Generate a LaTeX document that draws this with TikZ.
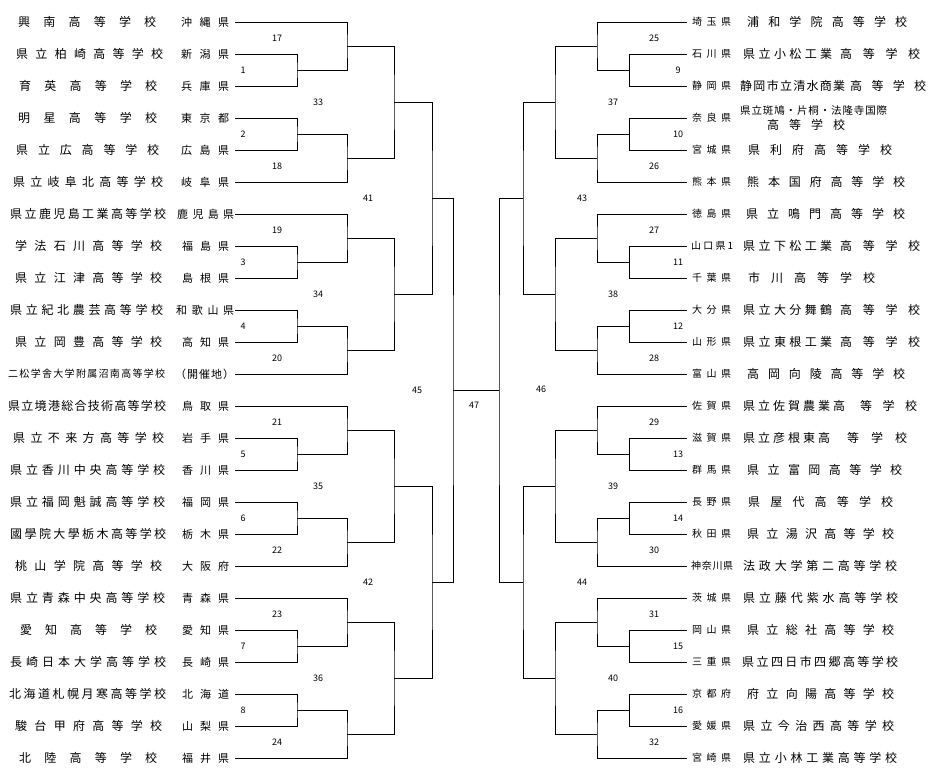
\documentclass[tikz,border=0pt]{standalone}
\usepackage{fontspec}
\setmainfont{Noto Sans CJK JP}
\def\spEnd{\spEnd}
\def\spLoop#1{\ifx#1\spEnd\else\hfill#1\expandafter\spLoop\fi}
\def\spFirst#1{#1\spLoop}
\newcommand\spreadtext[2]{\hbox to #1{\expandafter\spFirst#2\spEnd}}
\tikzset{
  nm/.style={anchor=west,inner sep=0pt,font=\fontsize{12}{12}\selectfont},
  pfl/.style={anchor=west,inner sep=0pt,font=\fontsize{11}{11}\selectfont},
  pfr/.style={anchor=west,inner sep=0pt,font=\fontsize{10}{10}\selectfont},
  num/.style={inner sep=0pt,font=\fontsize{9}{9}\selectfont},
  br/.style={line width=1pt,black}
}
\begin{document}
\begin{tikzpicture}[x=1pt,y=-1pt]
\fill[white] (0,0) rectangle (936,779);
\useasboundingbox (0,0) rectangle (936,779);
% entry coordinates
\foreach \k in {1,...,24}{
  \coordinate (L\k) at (235,{22+32*(\k-1)});
  \coordinate (R\k) at (687,{22+32*(\k-1)});
}
% left groups
\foreach \g in {0,...,3}{
  \pgfmathtruncatemacro\ra{6*\g+1}\pgfmathtruncatemacro\rb{6*\g+2}
  \pgfmathtruncatemacro\rc{6*\g+3}\pgfmathtruncatemacro\rd{6*\g+4}
  \pgfmathtruncatemacro\re{6*\g+5}\pgfmathtruncatemacro\rf{6*\g+6}
  \pgfmathtruncatemacro\ma{2*\g+1}\pgfmathtruncatemacro\mb{2*\g+2}
  \pgfmathtruncatemacro\na{17+2*\g}\pgfmathtruncatemacro\nb{18+2*\g}
  \pgfmathtruncatemacro\pp{33+\g}
  \pgfmathsetmacro\yo{22+192*\g}
  \coordinate (M\ma) at (297,\yo+48);
  \coordinate (M\mb) at (297,\yo+112);
  \coordinate (M\na) at (347,\yo+24);
  \coordinate (M\nb) at (347,\yo+136);
  \coordinate (M\pp) at (394,\yo+80);
  \draw[br] (L\rb) -| (M\ma) |- (L\rc);
  \draw[br] (L\rd) -| (M\mb) |- (L\re);
  \draw[br] (L\ra) -| (M\na) |- (M\ma);
  \draw[br] (L\rf) -| (M\nb) |- (M\mb);
  \draw[br] (M\na) -| (M\pp) |- (M\nb);
  \node[num] (t\na) at (277,\yo+16) {\na};
  \node[num] (t\nb) at (277,\yo+144) {\nb};
  \node[num] (t\ma) at (243,\yo+48) {\ma};
  \node[num] (t\mb) at (243,\yo+112) {\mb};
  \node[num] (t\pp) at (318,\yo+80) {\pp};
}
% right groups
\foreach \g in {0,...,3}{
  \pgfmathtruncatemacro\ra{6*\g+1}\pgfmathtruncatemacro\rb{6*\g+2}
  \pgfmathtruncatemacro\rc{6*\g+3}\pgfmathtruncatemacro\rd{6*\g+4}
  \pgfmathtruncatemacro\re{6*\g+5}\pgfmathtruncatemacro\rf{6*\g+6}
  \pgfmathtruncatemacro\ma{9+2*\g}\pgfmathtruncatemacro\mb{10+2*\g}
  \pgfmathtruncatemacro\na{25+2*\g}\pgfmathtruncatemacro\nb{26+2*\g}
  \pgfmathtruncatemacro\pp{37+\g}
  \pgfmathsetmacro\yo{22+192*\g}
  \coordinate (M\ma) at (629,\yo+48);
  \coordinate (M\mb) at (629,\yo+112);
  \coordinate (M\na) at (597,\yo+24);
  \coordinate (M\nb) at (597,\yo+136);
  \coordinate (M\pp) at (555,\yo+80);
  \draw[br] (R\rb) -| (M\ma) |- (R\rc);
  \draw[br] (R\rd) -| (M\mb) |- (R\re);
  \draw[br] (R\ra) -| (M\na) |- (M\ma);
  \draw[br] (R\rf) -| (M\nb) |- (M\mb);
  \draw[br] (M\na) -| (M\pp) |- (M\nb);
  \node[num] (t\na) at (654,\yo+16) {\na};
  \node[num] (t\nb) at (654,\yo+144) {\nb};
  \node[num] (t\ma) at (678,\yo+48) {\ma};
  \node[num] (t\mb) at (678,\yo+112) {\mb};
  \node[num] (t\pp) at (613,\yo+80) {\pp};
}
% later rounds
\coordinate (M41) at (432,198);
\coordinate (M42) at (432,582);
\coordinate (M43) at (523,198);
\coordinate (M44) at (523,582);
\coordinate (M45) at (453,390);
\coordinate (M46) at (499,390);
\draw[br] (M33) -| (M41) |- (M34);
\draw[br] (M35) -| (M42) |- (M36);
\draw[br] (M37) -| (M43) |- (M38);
\draw[br] (M39) -| (M44) |- (M40);
\draw[br] (M41) -| (M45) |- (M42);
\draw[br] (M43) -| (M46) |- (M44);
\draw[br] (M45) -- (M46);
\node[num] (t41) at (368,198) {41};
\node[num] (t42) at (368,582) {42};
\node[num] (t45) at (417,390) {45};
\node[num] (t47) at (474,405) {47};
\node[num] (t46) at (541,389) {46};
\node[num] (t43) at (582,198) {43};
\node[num] (t44) at (582,582) {44};
% left names
\foreach \k/\sname/\xa/\xb/\pname/\pa/\pb in {
1/興南高等学校/18/156/沖縄県/181/229,
2/県立柏崎高等学校/16/163/新潟県/181/229,
3/育英高等学校/19/157/兵庫県/181/229,
4/明星高等学校/18/157/東京都/181/229,
5/県立広高等学校/16/159/広島県/181/229,
6/県立岐阜北高等学校/13/163/岐阜県/181/229,
7/県立鹿児島工業高等学校/10/166/鹿児島県/177/234,
8/学法石川高等学校/15/162/福島県/182/229,
9/県立江津高等学校/15/162/島根県/182/229,
10/県立紀北農芸高等学校/10/163/和歌山県/176/234,
11/県立岡豊高等学校/15/162/高知県/182/229,
13/県立境港総合技術高等学校/8/166/鳥取県/182/229,
14/県立不来方高等学校/13/164/岩手県/182/229,
15/県立香川中央高等学校/10/165/香川県/182/229,
16/県立福岡魁誠高等学校/10/165/福岡県/182/229,
17/國學院大學栃木高等学校/10/166/栃木県/182/229,
18/桃山学院高等学校/15/162/大阪府/182/229,
19/県立青森中央高等学校/10/165/青森県/182/229,
20/愛知高等学校/20/157/愛知県/182/229,
21/長崎日本大学高等学校/10/166/長崎県/182/229,
22/北海道札幌月寒高等学校/9/166/北海道/182/229,
23/駿台甲府高等学校/15/162/山梨県/182/229,
24/北陸高等学校/19/157/福井県/182/229}{
  \node[nm] (ln\k) at (\xa,{22+32*(\k-1)}) {\spreadtext{\fpeval{\xb-\xa}pt}{\sname}};
  \node[pfl] (lp\k) at (\pa,{22+32*(\k-1)}) {\spreadtext{\fpeval{\pb-\pa}pt}{\pname}};
}
\node[anchor=west,inner sep=0pt,font=\fontsize{10}{10}\selectfont] (ln12) at (8,374) {\spreadtext{157pt}{二松学舎大学附属沼南高等学校}};
\node[pfl] (lp12) at (175,374) {\spreadtext{59pt}{（開催地）}};
% right prefectures
\foreach \k/\pname in {1/埼玉県,2/石川県,3/静岡県,4/奈良県,5/宮城県,6/熊本県,7/徳島県,9/千葉県,10/大分県,11/山形県,12/富山県,13/佐賀県,14/滋賀県,15/群馬県,16/長野県,17/秋田県,19/茨城県,20/岡山県,21/三重県,22/京都府,23/愛媛県,24/宮崎県}{
  \node[pfr] (rp\k) at (692,{22+32*(\k-1)}) {\spreadtext{39pt}{\pname}};
}
\node[pfr] (rp8) at (691,246) {\spreadtext{42pt}{山口県1}};
\node[pfr] (rp18) at (691,566) {\spreadtext{42pt}{神奈川県}};
% right names (uniform)
\foreach \k/\sname/\xa/\xb in {
1/浦和学院高等学校/747/907,
5/県利府高等学校/748/892,
6/熊本国府高等学校/747/905,
7/県立鳴門高等学校/746/905,
9/市川高等学校/748/875,
12/高岡向陵高等学校/747/905,
15/県立富岡高等学校/747/902,
16/県屋代高等学校/748/893,
17/県立湯沢高等学校/747/894,
18/法政大学第二高等学校/743/897,
19/県立藤代紫水高等学校/743/898,
20/県立総社高等学校/747/894,
21/県立四日市四郷高等学校/742/898,
22/府立向陽高等学校/747/894,
23/県立今治西高等学校/743/894,
24/県立小林工業高等学校/743/897}{
  \node[nm] (rn\k) at (\xa,{22+32*(\k-1)}) {\spreadtext{\fpeval{\xb-\xa}pt}{\sname}};
}
% right names (two spacings)
\node[nm] (rn2) at (743,54) {\spreadtext{89pt}{県立小松工業}\hspace{8pt}\spreadtext{80pt}{高等学校}};
\node[nm] (rn3) at (740,86) {\spreadtext{105pt}{静岡市立清水商業}\hspace{5pt}\spreadtext{76pt}{高等学校}};
\node[nm] (rn8) at (743,246) {\spreadtext{89pt}{県立下松工業}\hspace{8pt}\spreadtext{80pt}{高等学校}};
\node[nm] (rn10) at (743,310) {\spreadtext{89pt}{県立大分舞鶴}\hspace{8pt}\spreadtext{80pt}{高等学校}};
\node[nm] (rn11) at (743,342) {\spreadtext{89pt}{県立東根工業}\hspace{8pt}\spreadtext{80pt}{高等学校}};
\node[nm] (rn13) at (743,406) {\spreadtext{102pt}{県立佐賀農業高}\hspace{15pt}\spreadtext{57pt}{等学校}};
\node[nm] (rn14) at (743,438) {\spreadtext{87pt}{県立彦根東高}\hspace{17pt}\spreadtext{60pt}{等学校}};
\node[anchor=west,inner sep=0pt,font=\fontsize{10.5}{10.5}\selectfont] (rn4a) at (740,111) {\spreadtext{147pt}{県立斑鳩・片桐・法隆寺国際}};
\node[nm] (rn4b) at (767,125) {\spreadtext{78pt}{高等学校}};
\end{tikzpicture}
\end{document}
